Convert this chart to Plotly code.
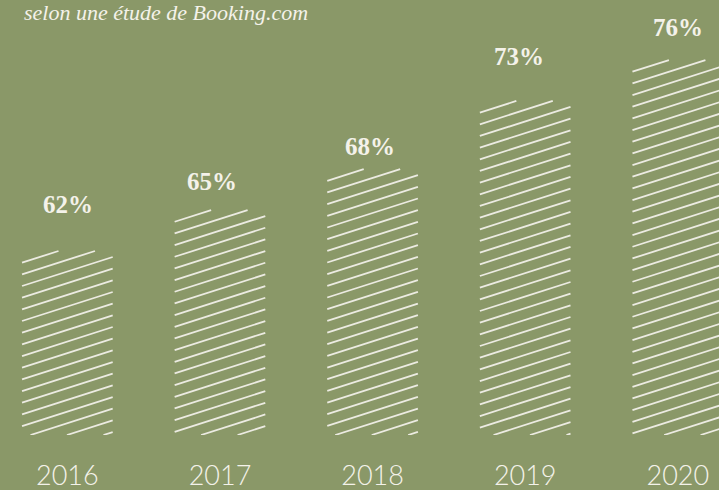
import plotly.graph_objects as go

# ---- data ----
years = ["2016", "2017", "2018", "2019", "2020"]
values = [62, 65, 68, 73, 76]
value_labels = ["62%", "65%", "68%", "73%", "76%"]
subtitle = "selon une étude de Booking.com"

# ---- style / layout constants ----
BG = "#8a9868"
FG = "#f4f2ea"
HATCH = "#ecebe2"
W, H = 719, 490
MB = 55                      # bottom margin (px)
PLOT_W, PLOT_H = W, H - MB
X0, X1 = -0.4414, 4.270
Y0, Y1 = 48.51, 80.40
BAR_W = 0.594
HATCH_SLOPE = 0.32           # px rise per px run
HATCH_STEP = 11.67           # vertical spacing (px)
LABEL_DY = [46, 28.5, 23, 44, 33]       # label offsets above bar top (px)
LABEL_DX = [1, -7.5, -2.5, -6.5, 0]

ppx = PLOT_W / (X1 - X0)
ppy = PLOT_H / (Y1 - Y0)

xs = list(range(len(years)))

def to_px_x(x):
    return (x - X0) * ppx

def to_px_y(y):
    return (Y1 - y) * ppy

def from_px_x(px):
    return X0 + px / ppx

def from_px_y(py):
    return Y1 - py / ppy

# hatch lines derived from the bar geometry
hx, hy = [], []
for i, v in zip(xs, values):
    xl = to_px_x(i - BAR_W / 2)
    xr = to_px_x(i + BAR_W / 2)
    yt = to_px_y(v)
    yb = to_px_y(Y0)
    w = xr - xl
    k = 0
    while True:
        c = yt + k * HATCH_STEP  # y at left edge
        if c - HATCH_SLOPE * w > yb:
            break
        x_top = xl + (c - yt) / HATCH_SLOPE
        x_bot = xl + (c - yb) / HATCH_SLOPE
        xa = max(xl, x_bot)
        xb = min(xr, x_top)
        if xb > xa:
            ya = c - HATCH_SLOPE * (xa - xl)
            yb2 = c - HATCH_SLOPE * (xb - xl)
            hx += [from_px_x(xa), from_px_x(xb), None]
            hy += [from_px_y(ya), from_px_y(yb2), None]
        k += 1

fig = go.Figure()
fig.add_trace(go.Bar(
    x=xs, y=values, width=BAR_W,
    marker=dict(color="rgba(0,0,0,0)", line=dict(width=0)),
    hoverinfo="skip", showlegend=False,
))
fig.add_trace(go.Scatter(
    x=hx, y=hy, mode="lines",
    line=dict(color=HATCH, width=1.8),
    hoverinfo="skip", showlegend=False, cliponaxis=True,
))

for i, v, lab, dy, dx in zip(xs, values, value_labels, LABEL_DY, LABEL_DX):
    fig.add_annotation(
        x=i, y=v, text=f"<b>{lab}</b>", showarrow=False,
        xanchor="center", yanchor="middle", yshift=dy, xshift=dx,
        font=dict(family="Liberation Serif, DejaVu Serif, serif", size=25, color=FG),
    )

fig.add_annotation(
    x=22 / PLOT_W, y=(PLOT_H - 12) / PLOT_H, xref="paper", yref="paper",
    text=f"<i>{subtitle}</i>", showarrow=False,
    xanchor="left", yanchor="middle",
    font=dict(family="Liberation Serif, DejaVu Serif, serif", size=22, color=FG),
)

fig.update_layout(
    width=W, height=H,
    margin=dict(l=0, r=0, t=0, b=MB, pad=0),
    paper_bgcolor=BG, plot_bgcolor=BG,
    bargap=0,
    xaxis=dict(
        range=[X0, X1], tickmode="array", tickvals=xs, ticktext=years,
        showgrid=False, zeroline=False, showline=False, ticks="",
        ticklabelstandoff=22,
        tickfont=dict(family="Lato, Open Sans, sans-serif", size=27, color=FG, weight=300),
        fixedrange=True,
    ),
    yaxis=dict(
        range=[Y0, Y1], visible=False, showgrid=False, zeroline=False,
        fixedrange=True,
    ),
)

fig.write_html("out.html")
